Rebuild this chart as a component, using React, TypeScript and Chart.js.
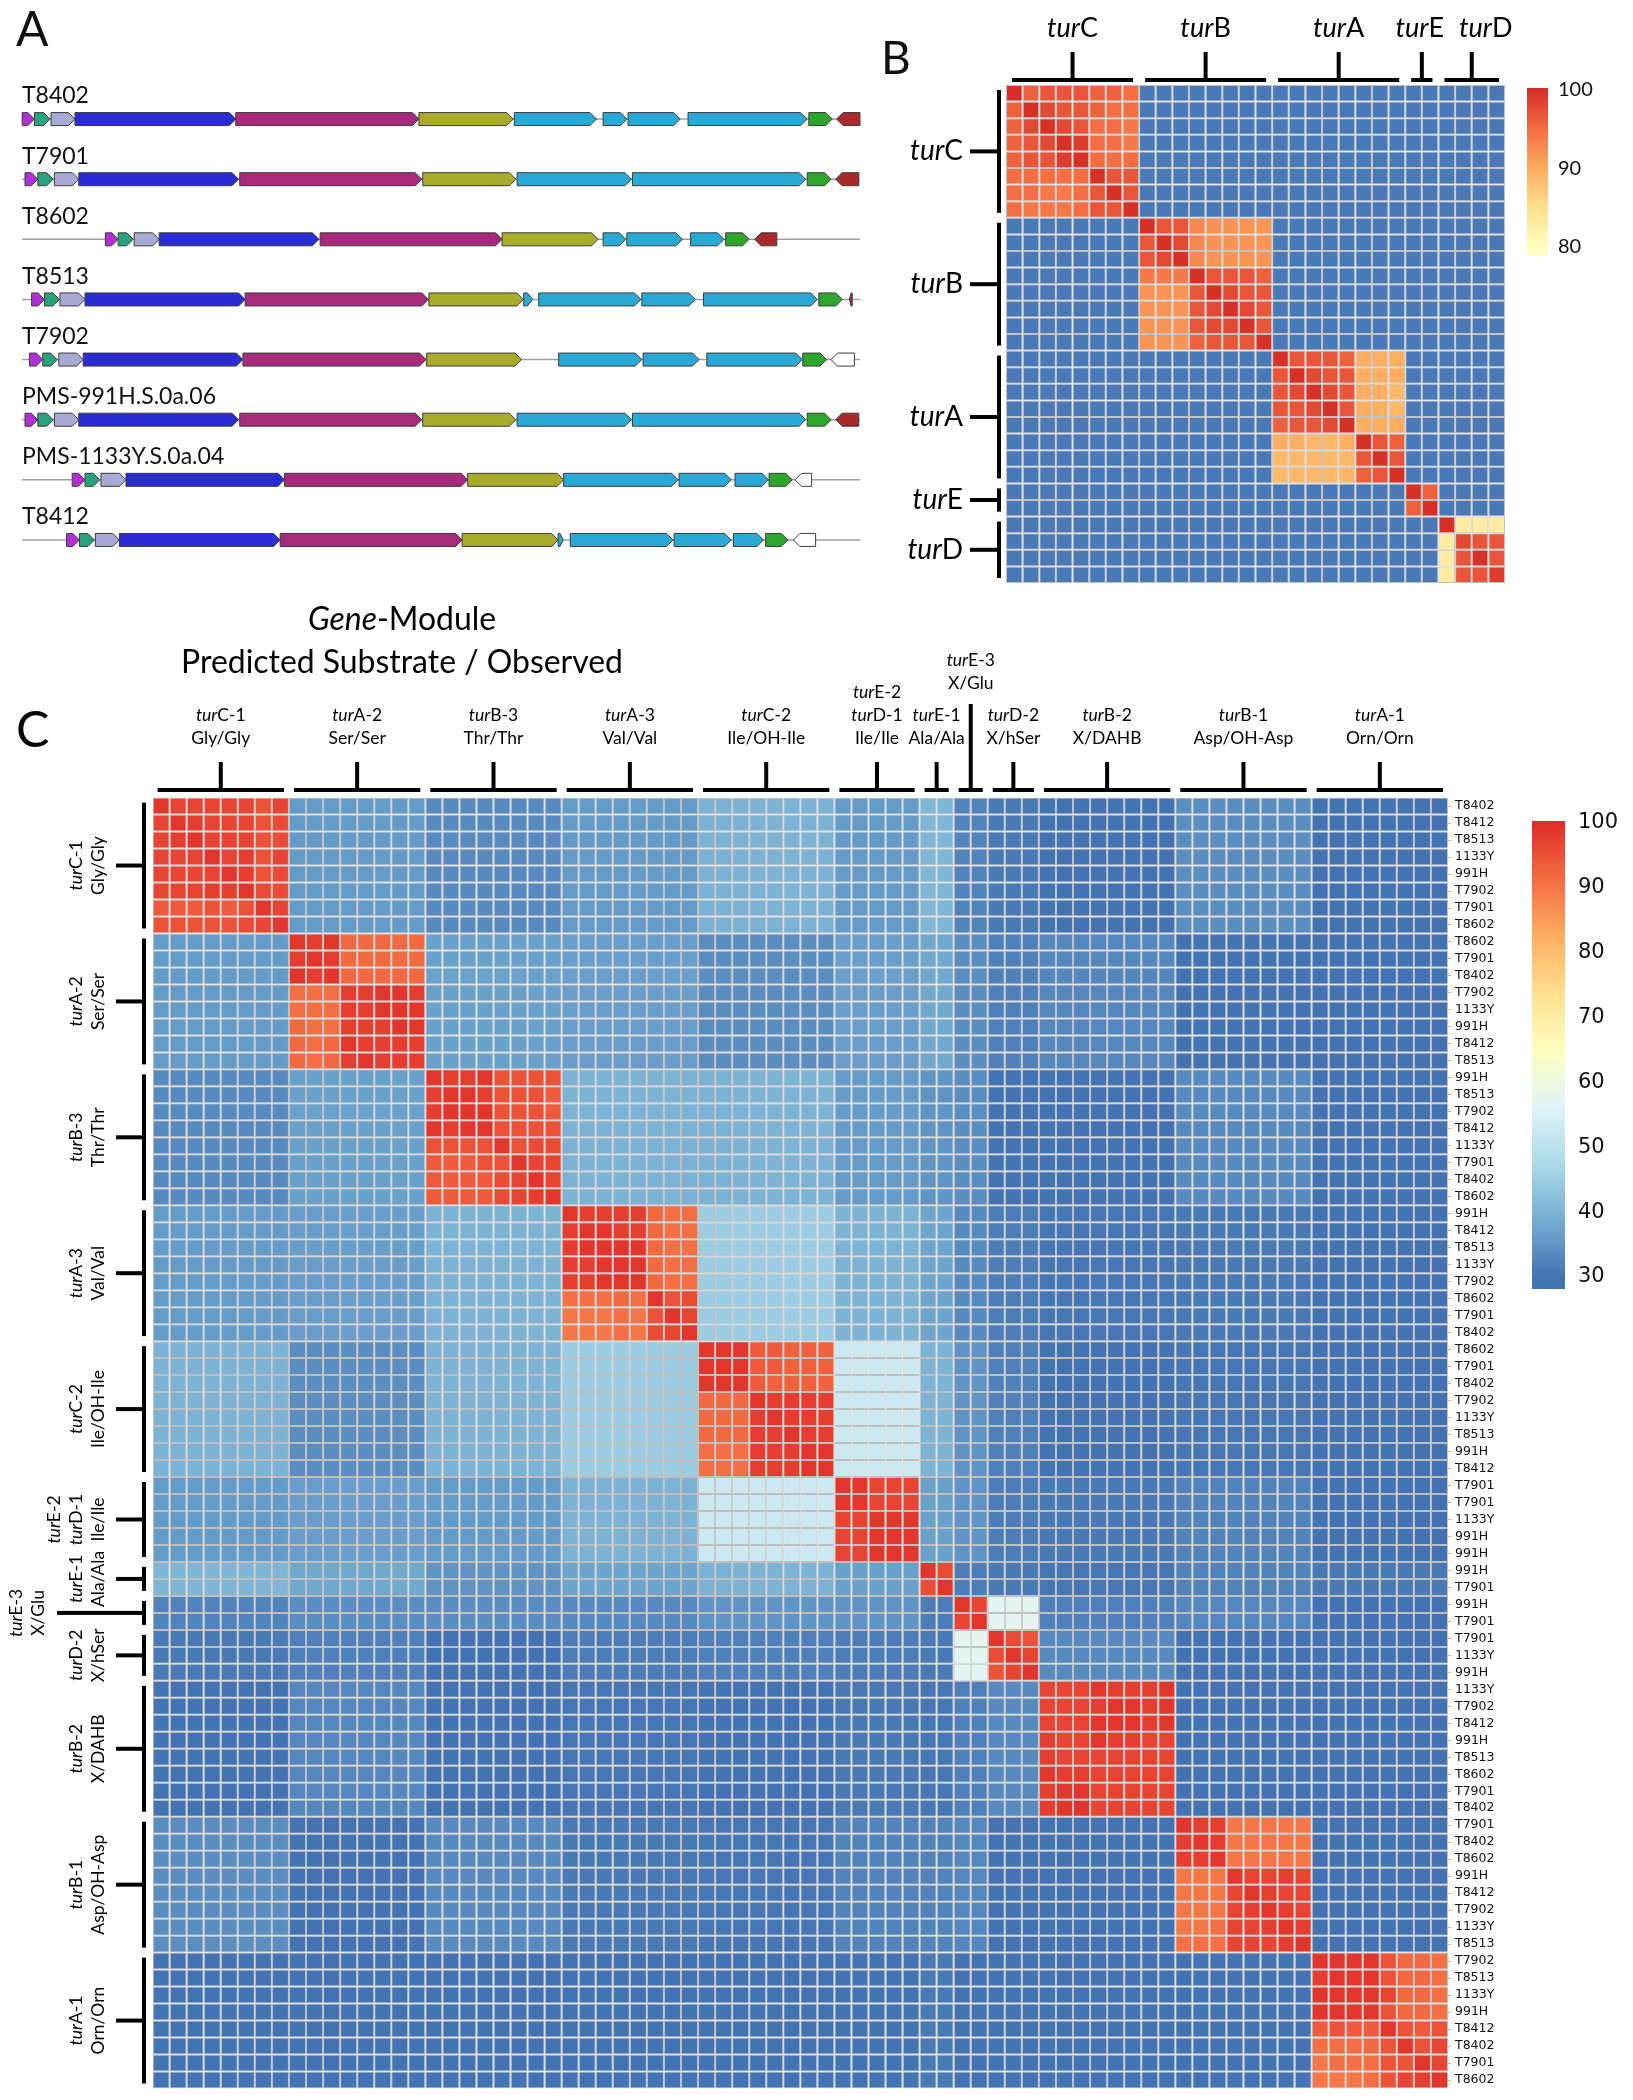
import React, { useEffect, useRef } from "react";
import { Chart, registerables } from "chart.js";

Chart.register(...registerables);

// ======================= DATA =======================

// ---- Panel A : gene clusters (positions in kb) ----
const strainNames = ["T8402", "T7901", "T8602", "T8513", "T7902", "PMS-991H.S.0a.06", "PMS-1133Y.S.0a.04", "T8412"];
const trackExtentKb = [0, 41.91];
type Gene = [string, number, number, number]; // kind, start, end, strand

const genesT8402: Gene[] = [
  ["P", 0.01, 0.62, 1], ["T", 0.62, 1.4, 1], ["L", 1.45, 2.65, 1], ["B", 2.65, 10.69, 1],
  ["M", 10.69, 19.85, 1], ["O", 19.85, 24.57, 1], ["C", 24.62, 28.73, 1], ["C", 29.06, 30.25, 1],
  ["C", 30.31, 32.92, 1], ["C", 33.31, 39.27, 1], ["G", 39.35, 40.52, 1], ["R", 40.74, 41.91, -1],
];
const genesT7901: Gene[] = [
  ["P", 0.15, 0.79, 1], ["T", 0.79, 1.56, 1], ["L", 1.62, 2.84, 1], ["B", 2.84, 10.83, 1],
  ["M", 10.89, 19.99, 1], ["O", 20.04, 24.7, 1], ["C", 24.76, 30.48, 1], ["C", 30.53, 39.19, 1],
  ["G", 39.27, 40.46, 1], ["R", 40.69, 41.85, -1],
];
const genesT8602: Gene[] = [
  ["P", 4.17, 4.81, 1], ["T", 4.81, 5.56, 1], ["L", 5.61, 6.86, 1], ["B", 6.86, 14.85, 1],
  ["M", 14.91, 24.01, 1], ["O", 24.01, 28.81, 1], ["C", 29.06, 30.2, 1], ["C", 30.25, 33.03, 1],
  ["C", 33.44, 35.11, 1], ["G", 35.19, 36.36, 1], ["R", 36.64, 37.75, -1],
];
const genesT8513: Gene[] = [
  ["P", 0.48, 1.12, 1], ["T", 1.12, 1.87, 1], ["L", 1.9, 3.15, 1], ["B", 3.15, 11.16, 1],
  ["M", 11.16, 20.32, 1], ["O", 20.35, 25.07, 1], ["C", 25.09, 25.54, 1], ["C", 25.84, 30.95, 1],
  ["C", 31.0, 33.67, 1], ["C", 34.08, 39.77, 1], ["G", 39.85, 41.02, 1], ["R", 41.38, 41.52, -1],
];
const genesT7902: Gene[] = [
  ["P", 0.37, 1.04, 1], ["T", 1.04, 1.76, 1], ["L", 1.84, 3.06, 1], ["B", 3.06, 11.05, 1],
  ["M", 11.05, 20.21, 1], ["O", 20.24, 24.98, 1], ["C", 26.84, 31.0, 1], ["C", 31.06, 33.86, 1],
  ["C", 34.25, 39.02, 1], ["G", 39.05, 40.24, 1], ["W", 40.46, 41.63, -1],
];
const genes991H: Gene[] = [
  ["P", 0.15, 0.79, 1], ["T", 0.79, 1.56, 1], ["L", 1.62, 2.84, 1], ["B", 2.84, 10.83, 1],
  ["M", 10.89, 19.99, 1], ["O", 20.04, 24.7, 1], ["C", 24.76, 30.48, 1], ["C", 30.53, 39.19, 1],
  ["G", 39.27, 40.46, 1], ["R", 40.69, 41.85, -1],
];
const genes1133Y: Gene[] = [
  ["P", 2.51, 3.15, 1], ["T", 3.15, 3.89, 1], ["L", 3.95, 5.2, 1], ["B", 5.2, 13.13, 1],
  ["M", 13.13, 22.29, 1], ["O", 22.29, 27.09, 1], ["C", 27.09, 32.81, 1], ["C", 32.86, 35.47, 1],
  ["C", 35.66, 37.33, 1], ["G", 37.36, 38.52, 1], ["W", 38.66, 39.49, -1],
];
const genesT8412: Gene[] = [
  ["P", 2.23, 2.87, 1], ["T", 2.87, 3.62, 1], ["L", 3.67, 4.87, 1], ["B", 4.87, 12.91, 1],
  ["M", 12.91, 22.01, 1], ["O", 22.01, 26.81, 1], ["C", 26.81, 27.06, 1], ["C", 27.42, 32.56, 1],
  ["C", 32.61, 35.47, 1], ["C", 35.58, 37.08, 1], ["G", 37.19, 38.3, 1], ["W", 38.58, 39.69, -1],
];
const geneRows = [genesT8402, genesT7901, genesT8602, genesT8513, genesT7902, genes991H, genes1133Y, genesT8412];

// ---- Panel B : gene-level identity (%) ----
const bGroupNames = ["turC", "turB", "turA", "turE", "turD"];
const bGroupSizes = [8, 8, 8, 2, 4];
const bTurC = [
  [100, 96, 97, 97, 97, 96, 96, 95],
  [96, 100, 98, 97, 97, 96, 95, 95],
  [96, 98, 100, 98, 97, 95, 95, 94],
  [96, 97, 98, 100, 99, 95, 95, 94],
  [96, 97, 97, 99, 100, 95, 95, 95],
  [95, 95, 95, 95, 95, 100, 97, 97],
  [95, 95, 94, 94, 95, 97, 100, 97],
  [95, 94, 94, 94, 95, 97, 97, 100],
];
const bTurB = [
  [100, 97, 97, 93, 92, 92, 92, 92],
  [97, 100, 98, 93, 92, 92, 92, 92],
  [97, 98, 100, 93, 92, 92, 92, 92],
  [94, 94, 94, 100, 97, 97, 97, 96],
  [92, 92, 92, 97, 100, 98, 97, 97],
  [92, 92, 92, 97, 98, 100, 98, 97],
  [92, 92, 92, 97, 98, 98, 100, 97],
  [92, 92, 92, 96, 97, 97, 97, 100],
];
const bTurA = [
  [100, 97, 97, 97, 96, 90, 90, 90],
  [97, 100, 98, 97, 97, 90, 90, 90],
  [97, 98, 100, 98, 97, 90, 90, 89],
  [97, 97, 98, 100, 97, 90, 90, 89],
  [96, 97, 97, 98, 100, 90, 90, 90],
  [90, 90, 89, 89, 90, 100, 97, 96],
  [89, 89, 89, 89, 89, 97, 100, 97],
  [89, 89, 89, 89, 89, 96, 97, 100],
];
const bTurE = [
  [100, 96],
  [96, 100],
];
const bTurD = [
  [100, 83, 83, 83],
  [83, 98, 97, 97],
  [83, 97, 100, 97],
  [83, 97, 97, 99],
];
const bDiagBlocks = [bTurC, bTurB, bTurA, bTurE, bTurD];
const bBlockMeans = [
  [0, 40, 40, 40, 40],
  [40, 0, 40, 40, 40],
  [40, 40, 0, 40, 40],
  [40, 40, 40, 0, 40],
  [40, 40, 40, 40, 0],
];
const bColorbarTicks = [100, 90, 80];

// ---- Panel C : module-level identity (%) ----
const cRowLabels = [
  "T8402", "T8412", "T8513", "1133Y", "991H", "T7902", "T7901", "T8602",
  "T8602", "T7901", "T8402", "T7902", "1133Y", "991H", "T8412", "T8513",
  "991H", "T8513", "T7902", "T8412", "1133Y", "T7901", "T8402", "T8602",
  "991H", "T8412", "T8513", "1133Y", "T7902", "T8602", "T7901", "T8402",
  "T8602", "T7901", "T8402", "T7902", "1133Y", "T8513", "991H", "T8412",
  "T7901", "T7901", "1133Y", "991H", "991H",
  "991H", "T7901",
  "991H", "T7901",
  "T7901", "1133Y", "991H",
  "1133Y", "T7902", "T8412", "991H", "T8513", "T8602", "T7901", "T8402",
  "T7901", "T8402", "T8602", "991H", "T8412", "T7902", "1133Y", "T8513",
  "T7902", "T8513", "1133Y", "991H", "T8412", "T8402", "T7901", "T8602",
];
const cGroupHeaders = [
  ["turC-1", "Gly/Gly"],
  ["turA-2", "Ser/Ser"],
  ["turB-3", "Thr/Thr"],
  ["turA-3", "Val/Val"],
  ["turC-2", "Ile/OH-Ile"],
  ["turE-2", "turD-1", "Ile/Ile"],
  ["turE-1", "Ala/Ala"],
  ["turE-3", "X/Glu"],
  ["turD-2", "X/hSer"],
  ["turB-2", "X/DAHB"],
  ["turB-1", "Asp/OH-Asp"],
  ["turA-1", "Orn/Orn"],
];
const cGroupSizes = [8, 8, 8, 8, 8, 5, 2, 2, 3, 8, 8, 8];
const cRaisedGroup = 7; // turE-3 label sits above the others

const cTurC1 = [
  [99, 97, 97, 97, 97, 97, 95, 97],
  [97, 99, 98, 97, 97, 97, 95, 96],
  [97, 98, 99, 97, 97, 97, 95, 96],
  [97, 97, 97, 99, 97, 98, 95, 97],
  [97, 97, 97, 97, 99, 98, 95, 96],
  [97, 97, 97, 98, 98, 99, 96, 96],
  [94, 94, 94, 95, 94, 95, 99, 97],
  [95, 95, 95, 95, 95, 96, 97, 99],
];
const cTurA2 = [
  [99, 98, 99, 92, 92, 92, 92, 92],
  [98, 99, 98, 92, 92, 92, 92, 92],
  [99, 98, 99, 92, 92, 92, 92, 92],
  [91, 91, 91, 98, 98, 99, 99, 98],
  [91, 91, 91, 98, 98, 99, 99, 99],
  [92, 91, 91, 98, 98, 98, 99, 99],
  [92, 91, 92, 99, 98, 98, 98, 98],
  [92, 91, 92, 98, 99, 98, 98, 98],
];
const cTurB3 = [
  [99, 98, 98, 99, 95, 95, 95, 95],
  [98, 99, 99, 98, 95, 95, 95, 94],
  [98, 99, 99, 99, 95, 95, 95, 94],
  [99, 98, 99, 99, 95, 95, 95, 95],
  [95, 95, 95, 95, 99, 95, 96, 96],
  [94, 94, 94, 95, 95, 99, 97, 97],
  [94, 94, 94, 94, 96, 97, 99, 97],
  [94, 94, 94, 94, 96, 97, 98, 99],
];
const cTurA3 = [
  [99, 98, 98, 98, 98, 92, 91, 91],
  [98, 99, 99, 98, 98, 92, 91, 91],
  [98, 99, 99, 99, 99, 92, 91, 91],
  [98, 98, 99, 99, 99, 92, 91, 91],
  [98, 98, 99, 99, 99, 92, 91, 91],
  [91, 91, 91, 92, 91, 99, 95, 96],
  [90, 90, 90, 91, 90, 95, 99, 97],
  [90, 90, 90, 91, 90, 96, 97, 99],
];
const cTurC2 = [
  [99, 99, 99, 94, 94, 93, 93, 93],
  [99, 99, 99, 94, 94, 93, 93, 93],
  [99, 99, 99, 94, 93, 93, 93, 93],
  [92, 92, 92, 99, 98, 98, 98, 98],
  [92, 92, 92, 98, 99, 98, 98, 98],
  [92, 92, 92, 98, 98, 99, 98, 98],
  [91, 91, 91, 98, 98, 98, 99, 99],
  [91, 91, 91, 98, 98, 98, 99, 99],
];
const cTurE2D1 = [
  [99, 99, 97, 97, 97],
  [99, 99, 97, 97, 97],
  [97, 97, 99, 99, 99],
  [97, 97, 99, 99, 99],
  [97, 97, 99, 99, 99],
];
const cTurE1 = [
  [99, 96],
  [96, 99],
];
const cTurE3 = [
  [99, 97],
  [97, 99],
];
const cTurD2 = [
  [99, 96, 95],
  [96, 99, 97],
  [95, 97, 99],
];
const cTurB2 = [
  [97, 97, 97, 99, 98, 98, 98, 99],
  [97, 97, 97, 98, 99, 99, 98, 99],
  [97, 97, 97, 99, 99, 99, 98, 99],
  [98, 97, 97, 99, 98, 98, 97, 97],
  [98, 97, 97, 97, 97, 97, 97, 97],
  [99, 98, 98, 97, 97, 97, 97, 97],
  [98, 99, 99, 97, 97, 97, 97, 97],
  [98, 99, 99, 97, 97, 97, 97, 97],
];
const cTurB1 = [
  [99, 98, 98, 90, 90, 90, 90, 90],
  [98, 99, 98, 90, 90, 90, 90, 90],
  [98, 98, 99, 90, 90, 90, 90, 90],
  [90, 90, 90, 99, 97, 97, 98, 97],
  [90, 90, 90, 97, 99, 98, 97, 97],
  [90, 90, 90, 97, 98, 99, 98, 97],
  [90, 90, 91, 97, 97, 98, 99, 98],
  [91, 91, 91, 97, 97, 97, 98, 99],
];
const cTurA1 = [
  [99, 99, 99, 99, 95, 92, 92, 91],
  [98, 99, 99, 99, 95, 92, 92, 91],
  [99, 99, 99, 99, 97, 92, 92, 91],
  [99, 99, 99, 99, 95, 92, 92, 91],
  [94, 95, 94, 94, 99, 95, 94, 95],
  [91, 91, 91, 92, 95, 99, 95, 97],
  [90, 91, 91, 91, 95, 95, 99, 97],
  [90, 90, 90, 91, 95, 97, 98, 99],
];
const cDiagBlocks = [cTurC1, cTurA2, cTurB3, cTurA3, cTurC2, cTurE2D1, cTurE1, cTurE3, cTurD2, cTurB2, cTurB1, cTurA1];
// mean identity between modules of different groups
const cBlockMeans = [
  [0, 36, 33.5, 36, 40, 36, 40.5, 32.5, 31, 30, 34, 30],
  [36, 0, 37, 36.5, 34, 36.5, 38, 34, 32, 33, 30, 30],
  [33.5, 37, 0, 40, 40, 36, 35, 34, 30, 30, 33.5, 30],
  [36, 36.5, 40, 0, 45, 40, 37.5, 33.5, 31.5, 30.5, 31, 30],
  [40, 34, 40, 45, 0, 53, 40, 35, 32, 30, 30.5, 30],
  [36, 36.5, 36, 40, 53, 0, 37, 35, 31.5, 31, 32.5, 30],
  [40.5, 38, 35, 37.5, 40, 37, 0, 31.5, 31, 30.5, 32.5, 31],
  [32.5, 34, 34, 33.5, 35, 35, 31.5, 0, 57, 32, 33, 30],
  [31, 32, 30, 31.5, 32, 31.5, 31, 57, 0, 33.5, 30, 30],
  [30, 33, 30, 30.5, 30, 31, 30.5, 32, 33.5, 0, 30, 30],
  [34, 30, 33.5, 31, 30.5, 32.5, 32.5, 33, 30, 30, 0, 30],
  [30, 30, 30, 30, 30, 30, 31, 30, 30, 30, 30, 0],
];
const cColorbarTicks = [100, 90, 80, 70, 60, 50, 40, 30];

// ======================= STYLE =======================
const SANS = "Lato, 'Open Sans', sans-serif";
const WIDE = "'DejaVu Sans', Verdana, sans-serif";
const geneColors: Record<string, string> = {
  P: "#b22fd6", T: "#28a27d", L: "#a8a9d5", B: "#2b2bd4", M: "#a82a7c",
  O: "#a9ab2b", C: "#2aa9d6", G: "#2ca62c", R: "#a82a2a", W: "#ffffff",
};
const bStops: [number, string][] = [[80, "#ffffbf"], [85, "#fee090"], [90, "#fdae61"], [95, "#f46d43"], [100, "#d73027"]];
const bBelowColor = "#4a79b8";
const cStops: [number, string][] = [
  [30, "#4473b3"], [38.75, "#74add1"], [47.5, "#abd9e9"], [56.25, "#e0f3f8"], [65, "#ffffbf"],
  [73.75, "#fee090"], [82.5, "#fdae61"], [91.25, "#f46d43"], [100, "#e02f2a"],
];
// horizontal nudge of the top labels in panel B (px), to keep turE / turD apart
const bTopLabelShift = [0, 0, 0, -2, 14];

// ======================= HELPERS =======================
function hexRgb(h: string) {
  const n = parseInt(h.slice(1), 16);
  return [(n >> 16) & 255, (n >> 8) & 255, n & 255];
}
function lerpColor(stops: [number, string][], v: number) {
  if (v <= stops[0][0]) return stops[0][1];
  for (let i = 1; i < stops.length; i++) {
    if (v <= stops[i][0]) {
      const [v0, c0] = stops[i - 1];
      const [v1, c1] = stops[i];
      const t = (v - v0) / (v1 - v0);
      const a = hexRgb(c0), b = hexRgb(c1);
      return `rgb(${Math.round(a[0] + (b[0] - a[0]) * t)},${Math.round(a[1] + (b[1] - a[1]) * t)},${Math.round(a[2] + (b[2] - a[2]) * t)})`;
    }
  }
  return stops[stops.length - 1][1];
}
const bColor = (v: number) => (v < 80 ? bBelowColor : lerpColor(bStops, v));
const cColor = (v: number) => lerpColor(cStops, v);

function buildMatrix(sizes: number[], diag: number[][][], means: number[][]) {
  const starts: number[] = [];
  const groupOf: number[] = [];
  let s = 0;
  sizes.forEach((z, g) => {
    starts.push(s);
    for (let k = 0; k < z; k++) groupOf.push(g);
    s += z;
  });
  const M: number[][] = [];
  for (let r = 0; r < s; r++) {
    const row: number[] = [];
    for (let c = 0; c < s; c++) {
      const gr = groupOf[r], gc = groupOf[c];
      row.push(gr === gc ? diag[gr][r - starts[gr]][c - starts[gc]] : means[gr][gc]);
    }
    M.push(row);
  }
  return { M, starts };
}

function setFont(ctx: CanvasRenderingContext2D, size: number, italic: boolean, family = SANS) {
  ctx.font = `${italic ? "italic " : ""}${size}px ${family}`;
}
function splitRich(text: string): [string, string] {
  for (const p of ["tur", "Gene"]) if (text.startsWith(p)) return [p, text.slice(p.length)];
  return ["", text];
}
function drawRich(ctx: CanvasRenderingContext2D, text: string, x: number, y: number, size: number, align: string, family = SANS) {
  const [it, rest] = splitRich(text);
  setFont(ctx, size, true, family);
  const w1 = it ? ctx.measureText(it).width : 0;
  setFont(ctx, size, false, family);
  const w2 = ctx.measureText(rest).width;
  const tot = w1 + w2;
  const x0 = align === "center" ? x - tot / 2 : align === "right" ? x - tot : x;
  ctx.textAlign = "left";
  ctx.textBaseline = "middle";
  if (it) {
    setFont(ctx, size, true, family);
    ctx.fillText(it, x0, y);
  }
  setFont(ctx, size, false, family);
  ctx.fillText(rest, x0 + w1, y);
}
function drawRotated(ctx: CanvasRenderingContext2D, text: string, x: number, y: number, size: number) {
  ctx.save();
  ctx.translate(x, y);
  ctx.rotate(-Math.PI / 2);
  drawRich(ctx, text, 0, 0, size, "center");
  ctx.restore();
}

function heatDatasets(M: number[][], colorOf: (v: number) => string, grid: string) {
  return M.map((row, r) => ({
    data: row.map(() => [r, r + 1]),
    backgroundColor: row.map((v) => colorOf(v)),
    borderColor: grid,
    borderWidth: 1,
    borderSkipped: false,
    inflateAmount: 0,
    grouped: false,
    barPercentage: 1,
    categoryPercentage: 1,
  }));
}

const baseOptions = {
  responsive: false,
  animation: false,
  devicePixelRatio: 1,
  events: [],
  plugins: { legend: { display: false }, tooltip: { enabled: false } },
};

// ======================= PANEL A =======================
function makePanelA() {
  const flat = geneRows.flatMap((genes, row) => genes.map((g) => ({ row, g })));
  const plugin = {
    id: "genesA",
    beforeDatasetsDraw(chart: any) {
      const { ctx } = chart;
      const xs = chart.scales.x, ys = chart.scales.y;
      ctx.save();
      ctx.strokeStyle = "#a0a0a0";
      ctx.lineWidth = 1.5;
      strainNames.forEach((_, i) => {
        const y = ys.getPixelForValue(i);
        ctx.beginPath();
        ctx.moveTo(xs.getPixelForValue(trackExtentKb[0]), y);
        ctx.lineTo(xs.getPixelForValue(trackExtentKb[1]), y);
        ctx.stroke();
      });
      ctx.restore();
    },
    afterDatasetsDraw(chart: any) {
      const { ctx } = chart;
      const meta = chart.getDatasetMeta(0);
      ctx.save();
      ctx.lineWidth = 1;
      ctx.lineJoin = "miter";
      meta.data.forEach((el: any, i: number) => {
        const p = el.getProps(["x", "y", "base", "height"], true);
        const g = flat[i].g;
        const x0 = Math.min(p.x, p.base), x1 = Math.max(p.x, p.base);
        const h = p.height / 2, yc = p.y;
        const tip = Math.min(6.5, (x1 - x0) * 0.6);
        ctx.beginPath();
        if (g[3] > 0) {
          ctx.moveTo(x0, yc - h); ctx.lineTo(x1 - tip, yc - h); ctx.lineTo(x1, yc);
          ctx.lineTo(x1 - tip, yc + h); ctx.lineTo(x0, yc + h);
        } else {
          ctx.moveTo(x1, yc - h); ctx.lineTo(x0 + tip, yc - h); ctx.lineTo(x0, yc);
          ctx.lineTo(x0 + tip, yc + h); ctx.lineTo(x1, yc + h);
        }
        ctx.closePath();
        ctx.fillStyle = geneColors[g[0]];
        ctx.fill();
        ctx.strokeStyle = "#3c3c3c";
        ctx.stroke();
      });
      ctx.restore();
    },
    afterDraw(chart: any) {
      const { ctx, chartArea } = chart;
      const ys = chart.scales.y;
      ctx.save();
      ctx.fillStyle = "#111";
      strainNames.forEach((n, i) => {
        setFont(ctx, 23, false);
        ctx.textAlign = "left";
        ctx.textBaseline = "middle";
        ctx.fillText(n, chartArea.left, ys.getPixelForValue(i) - 23);
      });
      setFont(ctx, 48, false);
      ctx.textBaseline = "middle";
      ctx.fillText("A", 16, 31);
      ctx.restore();
    },
  };
  return {
    type: "bar",
    data: {
      labels: strainNames,
      datasets: [
        {
          data: flat.map(({ row, g }) => ({ x: [g[1], g[2]], y: strainNames[row] })),
          backgroundColor: "rgba(0,0,0,0)",
          borderWidth: 0,
          barThickness: 13,
          grouped: false,
        },
      ],
    },
    options: {
      ...baseOptions,
      indexAxis: "y",
      layout: { padding: { left: 22, right: 20, top: 89, bottom: 20 } },
      scales: {
        x: { type: "linear", min: trackExtentKb[0], max: trackExtentKb[1], display: false },
        y: { type: "category", display: false, offset: true },
      },
    },
    plugins: [plugin],
  };
}

// ======================= PANEL B =======================
function makePanelB() {
  const { M, starts } = buildMatrix(bGroupSizes, bDiagBlocks, bBlockMeans);
  const n = M.length;
  const labels = M.map((_, i) => `b${i}`);
  const plugin = {
    id: "decorB",
    afterDraw(chart: any) {
      const { ctx, chartArea: a } = chart;
      const ys = chart.scales.y;
      const cw = a.width / n;
      ctx.save();
      ctx.fillStyle = "#000";
      bGroupNames.forEach((name, g) => {
        const s = starts[g], e = s + bGroupSizes[g];
        const xl = a.left + s * cw, xr = a.left + e * cw, xc = (xl + xr) / 2;
        drawRich(ctx, name, xc + bTopLabelShift[g], 28, 27, "center");
        ctx.fillRect(xl + 6, 78, xr - xl - 12, 4);
        ctx.fillRect(xc - 2, 52, 4, 28);
        const yt = ys.getPixelForValue(s), yb = ys.getPixelForValue(e), yc = (yt + yb) / 2;
        drawRich(ctx, name, 83, yc, 28, "right");
        ctx.fillRect(90, yc - 2, 29, 4);
        ctx.fillRect(117, yt + 5, 4, yb - yt - 10);
      });
      // colour bar
      const cbTop = 90, cbBot = 247;
      for (let y = 88; y <= 254; y++) {
        const v = 100 - ((y - cbTop) / (cbBot - cbTop)) * 20;
        ctx.fillStyle = lerpColor(bStops, Math.max(80, Math.min(100, v)));
        ctx.fillRect(647, y, 21, 1);
      }
      ctx.fillStyle = "#111";
      bColorbarTicks.forEach((t) => {
        setFont(ctx, 20, false);
        ctx.textAlign = "left";
        ctx.textBaseline = "middle";
        ctx.fillText(String(t), 678, cbTop + ((100 - t) / 20) * (cbBot - cbTop));
      });
      setFont(ctx, 46, false);
      ctx.textBaseline = "middle";
      ctx.fillText("B", 1, 59);
      ctx.restore();
    },
  };
  return {
    type: "bar",
    data: { labels, datasets: heatDatasets(M, bColor, "#c2c2c2") },
    options: {
      ...baseOptions,
      layout: { padding: { left: 126, right: 128, top: 85, bottom: 7 } },
      scales: {
        x: { display: false },
        y: { type: "linear", min: 0, max: n, reverse: true, display: false },
      },
    },
    plugins: [plugin],
  };
}

// ======================= PANEL C =======================
function makePanelC() {
  const { M, starts } = buildMatrix(cGroupSizes, cDiagBlocks, cBlockMeans);
  const n = M.length;
  const plugin = {
    id: "decorC",
    afterDraw(chart: any) {
      const { ctx, chartArea: a } = chart;
      const ys = chart.scales.y;
      const cw = a.width / n;
      ctx.save();
      ctx.fillStyle = "#000";
      // title
      setFont(ctx, 30, false);
      const tw = ctx.measureText("Predicted Substrate / Observed").width;
      const ts = (30 * 442) / tw;
      drawRich(ctx, "Gene-Module", 402, 30, ts, "center");
      drawRich(ctx, "Predicted Substrate / Observed", 402, 73, ts, "center");
      setFont(ctx, 50, false);
      ctx.textAlign = "left";
      ctx.textBaseline = "middle";
      ctx.fillText("C", 16, 141);

      cGroupHeaders.forEach((lines, g) => {
        const s = starts[g], e = s + cGroupSizes[g];
        const raised = g === cRaisedGroup;
        // top
        const xl = a.left + s * cw, xr = a.left + e * cw, xc = (xl + xr) / 2;
        const lastY = raised ? 93 : 148;
        lines.forEach((t, k) => drawRich(ctx, t, xc, lastY - (lines.length - 1 - k) * 23, 17.5, "center"));
        ctx.fillRect(xl + 5, 198, xr - xl - 10, 4);
        const tickTop = raised ? 114 : 172;
        ctx.fillRect(xc - 2, tickTop, 4, 200 - tickTop);
        // left
        const yt = ys.getPixelForValue(s), yb = ys.getPixelForValue(e), yc = (yt + yb) / 2;
        if (raised) {
          drawRotated(ctx, lines[0], 16, yc, 17.5);
          drawRotated(ctx, lines[1], 38, yc, 17.5);
          ctx.fillRect(57, yc - 2, 88, 4);
        } else {
          lines.forEach((t, k) => drawRotated(ctx, t, 98 - (lines.length - 1 - k) * 22, yc, 17.5));
          ctx.fillRect(116, yc - 2, 29, 4);
        }
        ctx.fillRect(142, yt + 5, 4, yb - yt - 10);
      });

      // colour bar
      const y100 = 233, y30 = 687;
      for (let y = 231; y <= 698; y++) {
        const v = 100 - ((y - y100) / (y30 - y100)) * 70;
        ctx.fillStyle = cColor(Math.max(30, Math.min(100, v)));
        ctx.fillRect(1532, y, 33, 1);
      }
      ctx.fillStyle = "#111";
      cColorbarTicks.forEach((t) => {
        setFont(ctx, 21, false, WIDE);
        ctx.textAlign = "left";
        ctx.textBaseline = "middle";
        ctx.fillText(String(t), 1578, y100 + ((100 - t) / 70) * (y30 - y100));
      });
      ctx.restore();
    },
  };
  return {
    type: "bar",
    data: { labels: cRowLabels, datasets: heatDatasets(M, cColor, "#bfbfbf") },
    options: {
      ...baseOptions,
      layout: { padding: { left: 152.6, right: 125, top: 207.6, bottom: 6 } },
      scales: {
        x: { display: false },
        y: { type: "linear", min: 0, max: n, reverse: true, display: false },
        yr: {
          type: "category",
          labels: cRowLabels,
          position: "right",
          offset: true,
          border: { display: false },
          grid: { display: true, drawOnChartArea: false, drawTicks: true, tickLength: 3, color: "#efb54a", lineWidth: 1 },
          ticks: { autoSkip: false, padding: 4, color: "#111", font: { family: WIDE, size: 12.5 } },
          afterFit(scale: any) {
            scale.width = 60;
          },
        },
      },
    },
    plugins: [plugin],
  };
}

// ======================= COMPONENTS =======================
function ChartCanvas({ left, top, width, height, make }: any) {
  const ref = useRef<HTMLCanvasElement>(null);
  useEffect(() => {
    const chart = new Chart(ref.current as HTMLCanvasElement, make() as any);
    return () => chart.destroy();
  }, []);
  return (
    <canvas
      ref={ref}
      width={width}
      height={height}
      style={{ position: "absolute", left, top, width, height }}
    />
  );
}

export default function App() {
  return (
    <div style={{ position: "absolute", left: 0, top: 0, width: 1633, height: 2100, background: "#fff", overflow: "hidden" }}>
      <ChartCanvas left={0} top={0} width={880} height={590} make={makePanelA} />
      <ChartCanvas left={880} top={0} width={753} height={590} make={makePanelB} />
      <ChartCanvas left={0} top={590} width={1633} height={1510} make={makePanelC} />
    </div>
  );
}
